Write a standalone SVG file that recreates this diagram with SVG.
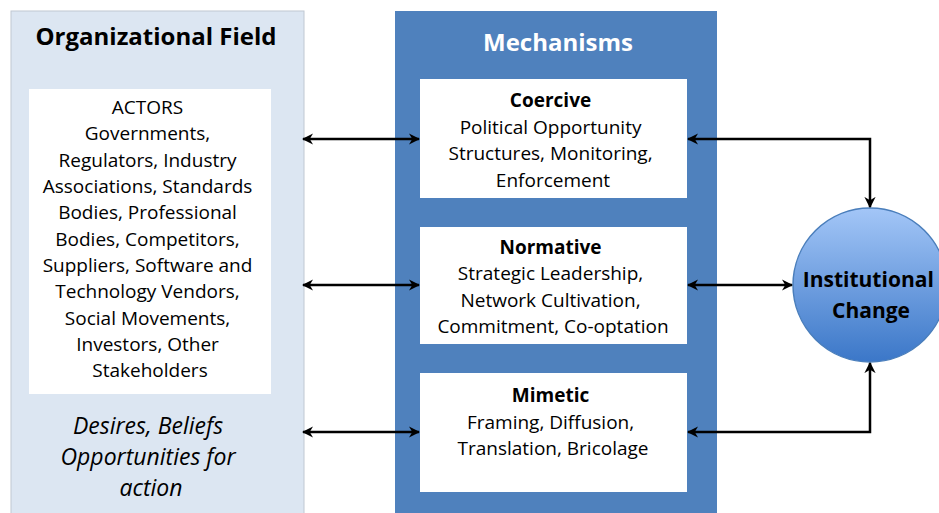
<svg xmlns="http://www.w3.org/2000/svg" width="939" height="513" viewBox="0 0 939 513">
<style>
.t{font-family:"Open Sans","Liberation Sans",sans-serif;text-anchor:middle;fill:#000}
.b{font-weight:bold}
.box{fill:#fff}
.c{stroke:#000;stroke-width:2.5;fill:none;marker-start:url(#a);marker-end:url(#a)}
</style>
<defs>
<marker id="a" viewBox="0 0 10 10" refX="9" refY="5" markerWidth="4.5" markerHeight="4.5" orient="auto-start-reverse" markerUnits="strokeWidth">
<path d="M0,0 L10,5 L0,10 L3,5 z" fill="#000"/>
</marker>
<linearGradient id="g" x1="0" y1="0" x2="0" y2="1">
<stop offset="0" stop-color="#a3c6f7"/>
<stop offset="1" stop-color="#3b77c8"/>
</linearGradient>
</defs>
<rect width="939" height="513" fill="#fff"/>
<g id="field">
<rect x="11" y="11" width="293" height="510" fill="#dce6f2" stroke="#c0c8d2" stroke-width="1"/>
<text class="t b" x="156" y="45" font-size="24">Organizational Field</text>
<rect class="box" x="29" y="89" width="242" height="305"/>
<text class="t" font-size="19">
<tspan x="150" y="114">ACTORS</tspan>
<tspan x="150" y="140">Governments,</tspan>
<tspan x="150" y="167">Regulators, Industry</tspan>
<tspan x="150" y="193">Associations, Standards</tspan>
<tspan x="150" y="219">Bodies, Professional</tspan>
<tspan x="150" y="246">Bodies, Competitors,</tspan>
<tspan x="150" y="272">Suppliers, Software and</tspan>
<tspan x="150" y="298">Technology Vendors,</tspan>
<tspan x="150" y="325">Social Movements,</tspan>
<tspan x="150" y="351">Investors, Other</tspan>
<tspan x="150" y="377">Stakeholders</tspan>
</text>
<text class="t" font-size="23" font-style="italic">
<tspan x="151" y="434">Desires, Beliefs</tspan>
<tspan x="151" y="465">Opportunities for</tspan>
<tspan x="151" y="496">action</tspan>
</text>
</g>
<g id="mechanisms">
<rect x="395" y="11" width="322" height="510" fill="#4f81bd"/>
<text class="t b" x="558" y="51" font-size="24" style="fill:#fff">Mechanisms</text>
</g>
<g id="coercive">
<rect class="box" x="420" y="79" width="267" height="119"/>
<text class="t" font-size="19">
<tspan class="b" x="553" y="107">Coercive</tspan>
<tspan x="553" y="134">Political Opportunity</tspan>
<tspan x="553" y="160">Structures, Monitoring,</tspan>
<tspan x="553" y="187">Enforcement</tspan>
</text>
</g>
<g id="normative">
<rect class="box" x="420" y="227" width="267" height="117"/>
<text class="t" font-size="19">
<tspan class="b" x="553" y="254">Normative</tspan>
<tspan x="553" y="280">Strategic Leadership,</tspan>
<tspan x="553" y="307">Network Cultivation,</tspan>
<tspan x="553" y="333">Commitment, Co-optation</tspan>
</text>
</g>
<g id="mimetic">
<rect class="box" x="420" y="373" width="267" height="119"/>
<text class="t" font-size="19">
<tspan class="b" x="553" y="402">Mimetic</tspan>
<tspan x="553" y="429">Framing, Diffusion,</tspan>
<tspan x="553" y="455">Translation, Bricolage</tspan>
</text>
</g>
<g id="change">
<circle cx="870" cy="285" r="77" fill="url(#g)" stroke="#4a7ebb" stroke-width="1.5"/>
<text class="t b" font-size="21">
<tspan x="871" y="287">Institutional</tspan>
<tspan x="871" y="318">Change</tspan>
</text>
</g>
<g id="connectors">
<path class="c" d="M303,139 H419"/>
<path class="c" d="M303,285 H419"/>
<path class="c" d="M303,432 H419"/>
<path class="c" d="M688,139 H870 V207"/>
<path class="c" d="M688,285 H792"/>
<path class="c" d="M688,432 H870 V363"/>
</g>
</svg>
